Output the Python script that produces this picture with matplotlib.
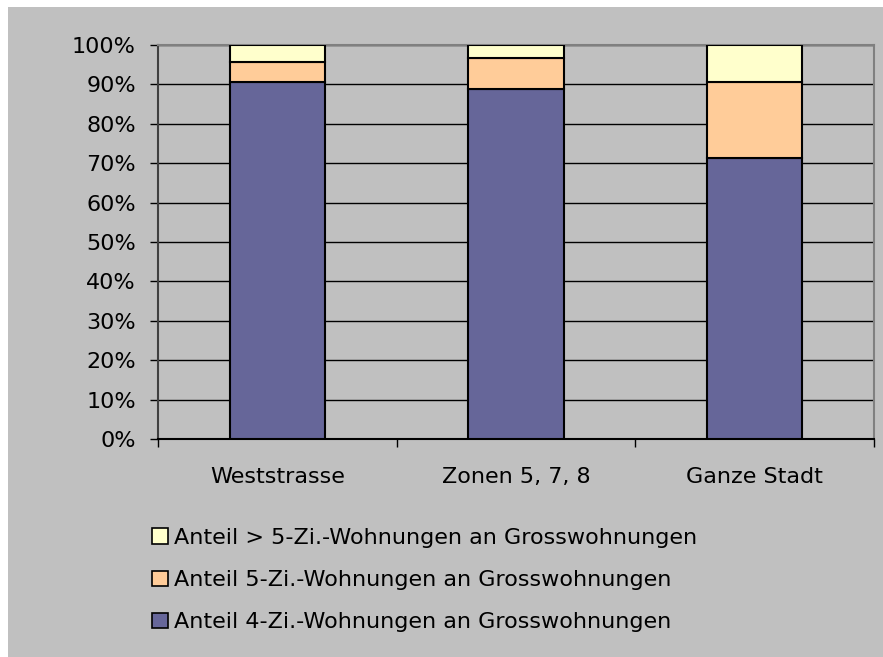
import matplotlib.pyplot as plt
from matplotlib.patches import Rectangle
from matplotlib.ticker import FuncFormatter, FixedLocator


categories = ['Weststrasse', 'Zonen 5, 7, 8', 'Ganze Stadt']
share_4zi = [90.7, 88.8, 71.4]
share_5zi = [5.1, 7.9, 19.3]
share_gt5zi = [4.2, 3.3, 9.3]

labels = [
    'Anteil 4-Zi.-Wohnungen an Grosswohnungen',
    'Anteil 5-Zi.-Wohnungen an Grosswohnungen',
    'Anteil > 5-Zi.-Wohnungen an Grosswohnungen',
]
colors = ['#666699', '#FFCC99', '#FFFFCC']

GRAY = '#C0C0C0'

fig = plt.figure(figsize=(8.83, 6.57), dpi=100, facecolor='white')
# grey chart area with a thin white margin at top and left
fig.patches.append(Rectangle((8 / 883, 0), 1 - 8 / 883, 1 - 7 / 657,
                             transform=fig.transFigure, facecolor=GRAY,
                             edgecolor='none', zorder=-10))

ax = fig.add_axes([158 / 883, 1 - 439 / 657, (874 - 158) / 883, (439 - 45) / 657])
ax.set_zorder(2)
ax.set_facecolor(GRAY)

x = list(range(len(categories)))
bottoms = [0.0] * len(categories)
bars = []
for vals, col, lab in zip([share_4zi, share_5zi, share_gt5zi], colors, labels):
    b = ax.bar(x, vals, width=0.4, bottom=bottoms, color=col, edgecolor='black',
               linewidth=1.5, label=lab, zorder=3)
    bars.append(b)
    bottoms = [bt + v for bt, v in zip(bottoms, vals)]

ax.set_xlim(-0.5, 2.5)
ax.set_ylim(0, 100)

ax.yaxis.set_major_locator(FixedLocator(range(0, 101, 10)))
ax.yaxis.set_major_formatter(FuncFormatter(lambda v, p: f'{int(v)}%'))
ax.grid(axis='y', color='black', linewidth=1, zorder=1)

ax.set_xticks(x)
ax.set_xticklabels(categories)
ax.xaxis.set_minor_locator(FixedLocator([-0.5, 0.5, 1.5, 2.5]))
ax.tick_params(axis='x', which='major', length=0, pad=20)
ax.tick_params(axis='x', which='minor', length=6, width=1, color='black', direction='out')
ax.tick_params(axis='y', length=6, width=1, color='black', direction='out', pad=10)

font = dict(family='DejaVu Sans', size=16)
for lbl in ax.get_xticklabels() + ax.get_yticklabels():
    lbl.set_fontfamily(font['family'])
    lbl.set_fontsize(font['size'])
    lbl.set_color('black')

ax.spines['left'].set_color('#404040')
ax.spines['bottom'].set_color('black')
ax.spines['top'].set_color('#808080')
ax.spines['right'].set_color('#808080')
for s in ax.spines.values():
    s.set_linewidth(1.5)
    s.set_zorder(2)

handles = [b[0] for b in bars][::-1]
leg = fig.legend(handles, labels[::-1], loc='upper left',
                 bbox_to_anchor=(152 / 883, 1 - 528 / 657),
                 frameon=False, prop=font, handlelength=0.7, handleheight=0.7,
                 handletextpad=0.3, labelspacing=1.0, borderaxespad=0,
                 borderpad=0)
for h in leg.legend_handles:
    h.set_linewidth(1.2)

fig.savefig('out.png', dpi=100, facecolor=fig.get_facecolor())
